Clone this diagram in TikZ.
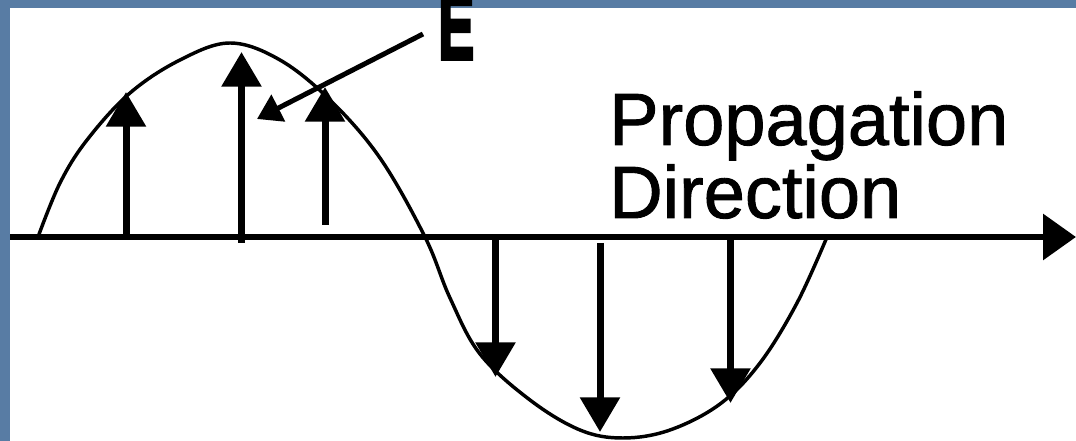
\documentclass[tikz,border=0pt]{standalone}
\usepackage{fontspec}
\newfontfamily\labelfont[FakeBold=1.2]{Liberation Sans}
\newfontfamily\heavyfont[FakeBold=4]{Liberation Sans Bold}
\usetikzlibrary{arrows.meta}
\definecolor{slideblue}{RGB}{88,124,164}
\begin{document}
\begin{tikzpicture}[x=0.75pt,y=-0.75pt,
  wave/.style={line width=2.6pt, line join=round},
  axisline/.style={line width=4.9pt, -{Triangle[length=24.75pt,width=33.75pt]}},
  field/.style={line width=5.25pt, -{Triangle[length=26pt,width=29pt]}},
  pointer/.style={line width=3.75pt, -{Triangle[length=18pt,width=22pt]}},
  caption/.style={inner sep=0pt, anchor=base west,
    font=\labelfont\fontsize{55.5}{60}\selectfont},
]
\useasboundingbox (0,0) rectangle (1076,441);
% slide background with its blue frame on the top and left
\fill[white] (0,0) rectangle (1076,441);
\fill[slideblue] (0,0) rectangle (1076,8);
\fill[slideblue] (0,0) rectangle (10,441);

% propagation axis
\coordinate (axisstart) at (10,237);
\coordinate (axisend) at (1076,237);
\draw[axisline] (axisstart) -- (axisend);

% one period of the electric field wave
\draw[wave] plot[smooth, tension=0.6] coordinates {
  (38,237) (60,183) (87,140) (130,93) (180,60) (230,43)
  (280,60) (330,100) (380,158) (425,237)
  (450,298) (480,354) (530,400) (580,430) (623,438)
  (670,430) (720,404) (760,363) (797,303) (827,237)};

% field vectors above the axis
\coordinate (u1a) at (126,237);   \coordinate (u1b) at (126,92);
\coordinate (u2a) at (241.5,243); \coordinate (u2b) at (241.5,52);
\coordinate (u3a) at (325,225);   \coordinate (u3b) at (325,87);
\draw[field] (u1a) -- (u1b);
\draw[field] (u2a) -- (u2b);
\draw[field] (u3a) -- (u3b);

% field vectors below the axis
\coordinate (d1a) at (495.5,237); \coordinate (d1b) at (495.5,377);
\coordinate (d2a) at (600,243);   \coordinate (d2b) at (600,432);
\coordinate (d3a) at (730.5,237); \coordinate (d3b) at (730.5,403);
\draw[field] (d1a) -- (d1b);
\draw[field] (d2a) -- (d2b);
\draw[field] (d3a) -- (d3b);

% E label (heavy, condensed) and its pointer
\node[anchor=base west, inner sep=0pt, text height=37pt, text depth=0pt,
  font=\heavyfont\fontsize{54}{60}\selectfont] (elabel) at (438,59)
  {\resizebox{27pt}{49pt}{E}};
\coordinate (etail) at (423,34);
\coordinate (ehead) at (257,119);
\draw[pointer] (etail) -- (ehead);

% caption
\node[caption] (prop) at (609,145) {Propagation};
\node[caption] (dir) at (609,218) {Direction};
\end{tikzpicture}
\end{document}
